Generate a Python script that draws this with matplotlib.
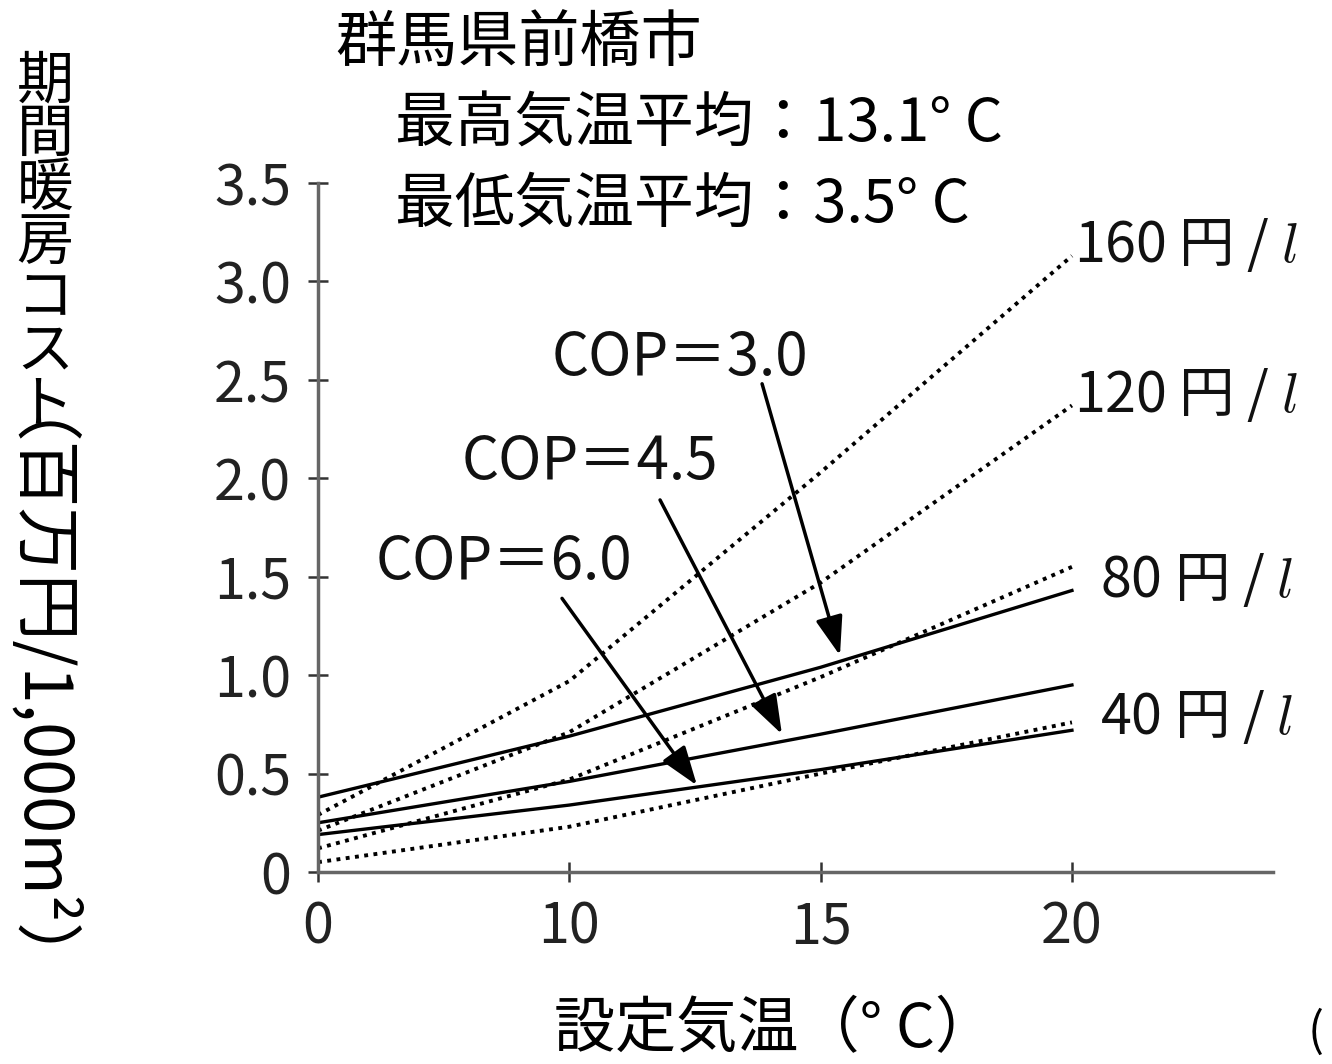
import numpy as np
import matplotlib.pyplot as plt

plt.rcParams['font.family'] = ['Noto Sans CJK JP', 'DejaVu Sans']
plt.rcParams['mathtext.fontset'] = 'cm'

# set temperature (categories, evenly spaced on the chart)
set_temps = ["0", "10", "15", "20"]

# heat pump cost (million yen / 1,000 m2)
cop_30 = [0.38, 0.69, 1.04, 1.43]
cop_45 = [0.25, 0.46, 0.70, 0.95]
cop_60 = [0.19, 0.34, 0.52, 0.72]

# oil heater cost by oil price
oil_40 = [0.05, 0.23, 0.50, 0.76]
oil_80 = [0.12, 0.47, 0.99, 1.55]
oil_120 = [0.21, 0.71, 1.47, 2.37]
oil_160 = [0.29, 0.97, 2.03, 3.13]

oil_labels = ["160 円 / $l$", "120 円 / $l$", "80 円 / $l$", "40 円 / $l$"]
y_ticks = [0, 0.5, 1.0, 1.5, 2.0, 2.5, 3.0, 3.5]
y_ticklabels = ["0", "0.5", "1.0", "1.5", "2.0", "2.5", "3.0", "3.5"]

W, H = 1332, 1064
fig = plt.figure(figsize=(W / 100, H / 100), dpi=100)
ax = fig.add_axes([318 / W, 192 / H, 955 / W, 689 / H])

x = np.arange(len(set_temps))
dot = (0, (1, 1.4))
for s in [oil_40, oil_80, oil_120, oil_160]:
    ax.plot(x, s, color='black', lw=2.8, linestyle=dot)
for s in [cop_30, cop_45, cop_60]:
    ax.plot(x, s, color='black', lw=2.4)

ax.set_xlim(0, 3.8)
ax.set_ylim(0, 3.5)
ax.set_xticks(x)
ax.set_xticklabels(set_temps)
ax.set_yticks(y_ticks)
ax.set_yticklabels(y_ticklabels)
for side in ['top', 'right']:
    ax.spines[side].set_visible(False)
for side in ['left', 'bottom']:
    ax.spines[side].set_color('#666666')
    ax.spines[side].set_linewidth(2.5)
ax.spines['left'].set_bounds(0, 3.5)
ax.tick_params(direction='inout', length=15, width=1.8, color='#333333',
               labelsize=40, labelcolor='#222222')
ax.tick_params(axis='y', pad=12)
ax.tick_params(axis='x', pad=12)

# COP annotations
cop_text = [("COP＝3.0", (1.44, 2.61), (1.767, 2.48), (2.077, 1.10)),
            ("COP＝4.5", (1.08, 2.08), (1.361, 1.89), (1.846, 0.70)),
            ("COP＝6.0", (0.74, 1.57), (0.971, 1.39), (1.508, 0.44))]
for label, pos, start, end in cop_text:
    ax.text(pos[0], pos[1], label, fontsize=42, ha='center', va='center', color='#111111')
    ax.annotate('', xy=end, xytext=start,
                arrowprops=dict(arrowstyle='-|>,head_length=0.8,head_width=0.28',
                                lw=2.5, color='black', shrinkA=0, shrinkB=0,
                                mutation_scale=30))

# oil price labels
label_pos = [(3.01, 3.18), (3.01, 2.42), (3.11, 1.48), (3.11, 0.78)]
for label, (lx, ly) in zip(oil_labels, label_pos):
    ax.text(lx, ly, label, fontsize=40, ha='left', va='center', color='#111111')

# header texts
fig.text(335 / W, 1 - 45 / H, "群馬県前橋市", fontsize=44, ha='left', va='center')
fig.text(395 / W, 1 - 125 / H, "最高気温平均：13.1° C", fontsize=43, ha='left', va='center')
fig.text(395 / W, 1 - 205 / H, "最低気温平均：3.5° C", fontsize=43, ha='left', va='center')

# axis labels
fig.text(775 / W, 1 - 1030 / H, "設定気温（° C）", fontsize=44, ha='center', va='center')
fig.text(45 / W, 1 - 52 / H, "\n".join("期間暖房コスト"), fontsize=41,
         ha='center', va='top', linespacing=0.9)
fig.text(-22 / W, 1 - 420 / H, "（百万円/1,000m²）", fontsize=48, rotation=270,
         rotation_mode='anchor', ha='left', va='baseline')
fig.text(1308 / W, 1 - 1033 / H, "(", fontsize=34, ha='left', va='center')

fig.savefig("out.png", dpi=100)
